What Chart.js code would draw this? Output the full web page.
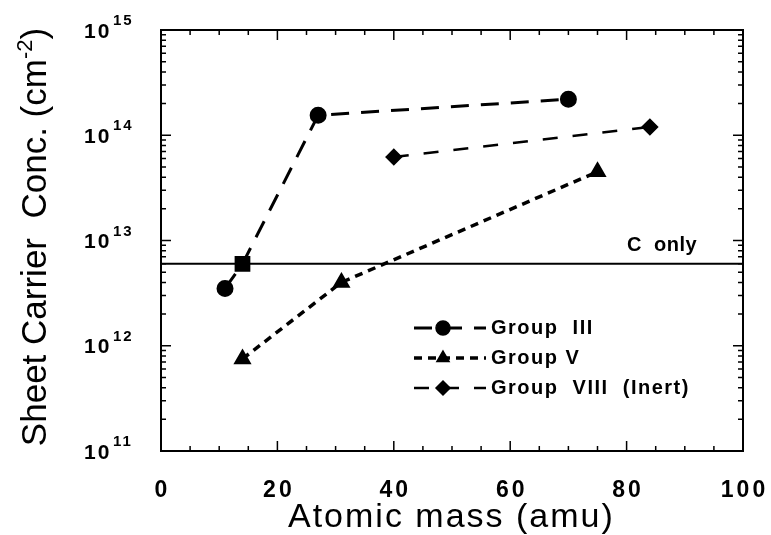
<!DOCTYPE html>
<html>
<head>
<meta charset="utf-8">
<script src="https://cdn.jsdelivr.net/npm/chart.js@4.4.0/dist/chart.umd.min.js"></script>
<style>
  html, body { margin: 0; padding: 0; background: #fff; }
  #wrap { width: 771px; height: 535px; }
</style>
</head>
<body>
<div id="wrap"><canvas id="chart" width="771" height="535"></canvas></div>
<script>
// Sheet carrier concentration vs. atomic mass of the co-implanted species

const groupIIIMass = [11, 14, 27, 70];
const groupIIIConc = [3.5e12, 6.0e12, 1.55e14, 2.2e14];
const groupIIIMarkers = ['circle', 'rect', 'circle', 'circle'];
const groupIIIRadius = [7, 9, 7, 7];

const groupVMass = [14, 31, 75];
const groupVConc = [7.5e11, 4.0e12, 4.5e13];

const groupVIIIMass = [40, 84];
const groupVIIIConc = [6.2e13, 1.2e14];

const cOnlyMass = [0, 100];
const cOnlyConc = [6.0e12, 6.0e12];

const xTickValues = [0, 20, 40, 60, 80, 100];
const yDecades = [11, 12, 13, 14, 15];

const legendLabels = ['Group  III', 'Group V', 'Group  VIII  (Inert)'];

const FONT = '"Liberation Sans", Arial, Helvetica, sans-serif';

function toPoints(xs, ys) {
  return xs.map((x, i) => ({ x: x, y: ys[i] }));
}

const datasets = [
  {
    label: legendLabels[0],
    data: toPoints(groupIIIMass, groupIIIConc),
    borderColor: '#000',
    backgroundColor: '#000',
    borderWidth: 3,
    borderDash: [18, 12],
    pointStyle: groupIIIMarkers,
    pointRadius: groupIIIRadius,
    showLine: true
  },
  {
    label: legendLabels[1],
    data: toPoints(groupVMass, groupVConc),
    borderColor: '#000',
    backgroundColor: '#000',
    borderWidth: 3.5,
    borderDash: [8, 6],
    pointStyle: 'triangle',
    pointRadius: 7,
    showLine: true
  },
  {
    label: legendLabels[2],
    data: toPoints(groupVIIIMass, groupVIIIConc),
    borderColor: '#000',
    backgroundColor: '#000',
    borderWidth: 2.5,
    borderDash: [15, 15],
    pointStyle: 'rectRot',
    pointRadius: 7,
    showLine: true
  },
  {
    label: 'C only',
    data: toPoints(cOnlyMass, cOnlyConc),
    borderColor: '#000',
    borderWidth: 2,
    pointRadius: 0,
    showLine: true
  }
];

// Frame, inward ticks, tick labels, axis titles and the in-plot legend
const axisDecor = {
  id: 'axisDecor',
  afterDraw(chart) {
    const ctx = chart.ctx;
    const area = chart.chartArea;
    const xs = chart.scales.x;
    const ys = chart.scales.y;
    ctx.save();
    ctx.strokeStyle = '#000';
    ctx.fillStyle = '#000';
    ctx.setLineDash([]);

    // frame
    ctx.lineWidth = 2;
    ctx.strokeRect(area.left, area.top, area.right - area.left, area.bottom - area.top);

    // x ticks every 5, long ones at labelled values
    ctx.lineWidth = 1.5;
    ctx.beginPath();
    for (let v = 0; v <= 100; v += 5) {
      const px = xs.getPixelForValue(v);
      const len = xTickValues.includes(v) ? 10 : 5;
      ctx.moveTo(px, area.bottom); ctx.lineTo(px, area.bottom - len);
      ctx.moveTo(px, area.top); ctx.lineTo(px, area.top + len);
    }
    // y ticks on the log axis: decades long, 2..9 short
    yDecades.forEach((d, i) => {
      const last = i === yDecades.length - 1;
      for (let m = 1; m <= (last ? 1 : 9); m++) {
        const py = ys.getPixelForValue(m * Math.pow(10, d));
        const len = m === 1 ? 10 : 5;
        ctx.moveTo(area.left, py); ctx.lineTo(area.left + len, py);
        ctx.moveTo(area.right, py); ctx.lineTo(area.right - len, py);
      }
    });
    ctx.stroke();

    // x tick labels
    ctx.font = 'bold 23px ' + FONT;
    ctx.letterSpacing = '3px';
    ctx.textAlign = 'center';
    ctx.textBaseline = 'alphabetic';
    xTickValues.forEach(v => {
      ctx.fillText(String(v), xs.getPixelForValue(v) + 1.5, 497);
    });

    // y tick labels as 10 with a superscript exponent
    ctx.textAlign = 'left';
    yDecades.forEach(d => {
      const py = ys.getPixelForValue(Math.pow(10, d));
      ctx.font = 'bold 21px ' + FONT;
      ctx.letterSpacing = '2px';
      ctx.fillText('10', 84, py + 7.5);
      ctx.font = 'bold 15px ' + FONT;
      ctx.letterSpacing = '2px';
      ctx.fillText(String(d), 113, py - 5);
    });

    // x axis title
    ctx.font = '34px ' + FONT;
    ctx.letterSpacing = '2px';
    ctx.fillText('Atomic mass (amu)', 288, 527);

    // y axis title, rotated, with cm^-2
    ctx.save();
    ctx.translate(46, 237);
    ctx.rotate(-Math.PI / 2);
    const big = '35px ' + FONT;
    const sup = '22px ' + FONT;
    const parts = [
      { t: 'Sheet Carrier  Conc. (cm', f: big, dy: 0 },
      { t: '-2', f: sup, dy: -14 },
      { t: ')', f: big, dy: 0 }
    ];
    ctx.letterSpacing = '0px';
    let total = 0;
    parts.forEach(p => { ctx.font = p.f; p.w = ctx.measureText(p.t).width; total += p.w; });
    let cx = -total / 2;
    parts.forEach(p => { ctx.font = p.f; ctx.fillText(p.t, cx, p.dy); cx += p.w; });
    ctx.restore();

    // reference line label
    ctx.font = 'bold 20px ' + FONT;
    ctx.letterSpacing = '0.5px';
    ctx.fillText('C  only', 627, 251);

    // legend inside the plot
    const rowsY = [328, 358, 388];
    chart.data.datasets.slice(0, 3).forEach((ds, i) => {
      const y = rowsY[i];
      ctx.save();
      ctx.lineWidth = ds.borderWidth;
      ctx.setLineDash(ds.borderDash);
      ctx.beginPath();
      ctx.moveTo(414, y); ctx.lineTo(486, y);
      ctx.stroke();
      ctx.restore();
      const style = Array.isArray(ds.pointStyle) ? ds.pointStyle[0] : ds.pointStyle;
      const radius = Array.isArray(ds.pointRadius) ? ds.pointRadius[0] : ds.pointRadius;
      ctx.setLineDash([]);
      Chart.helpers.drawPoint(ctx, { pointStyle: style, radius: radius, rotation: 0, borderWidth: 1 }, 443, y);
      ctx.font = 'bold 20px ' + FONT;
      ctx.letterSpacing = '1.5px';
      ctx.textBaseline = 'middle';
      ctx.fillText(ds.label, 491, y);
      ctx.textBaseline = 'alphabetic';
    });

    ctx.restore();
  }
};

new Chart(document.getElementById('chart'), {
  type: 'scatter',
  data: { datasets: datasets },
  options: {
    responsive: false,
    animation: false,
    layout: { padding: { left: 161, right: 28, top: 30, bottom: 84 } },
    plugins: { legend: { display: false }, tooltip: { enabled: false } },
    elements: { line: { tension: 0 } },
    scales: {
      x: { type: 'linear', min: 0, max: 100, display: false },
      y: { type: 'logarithmic', min: 1e11, max: 1e15, display: false }
    }
  },
  plugins: [axisDecor]
});
</script>
</body>
</html>
